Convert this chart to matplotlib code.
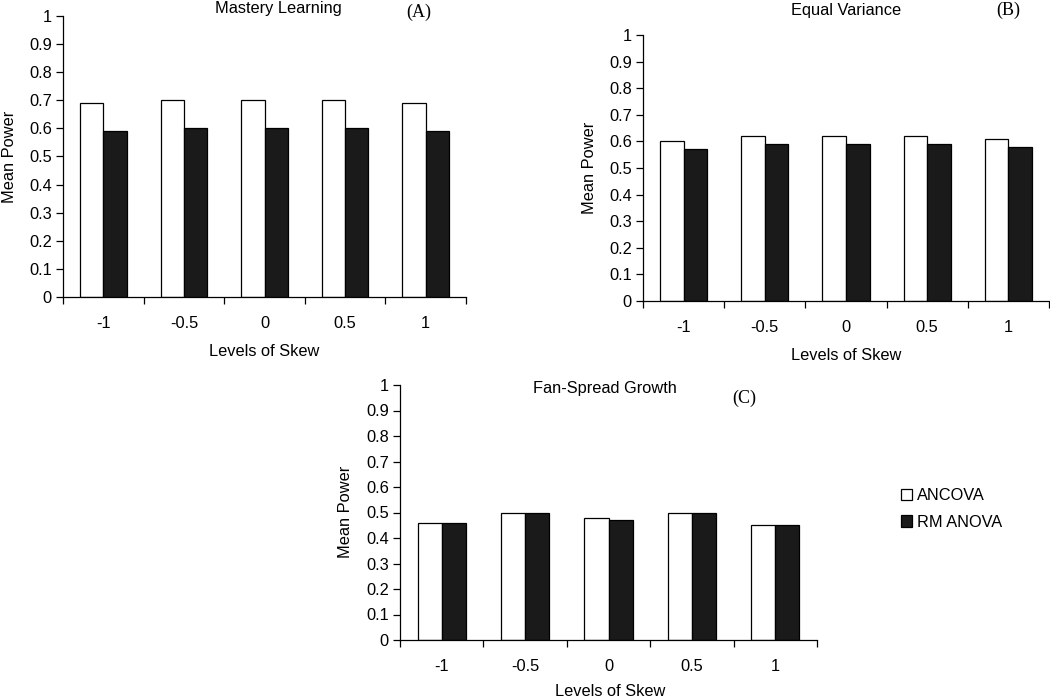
import numpy as np
import matplotlib
matplotlib.use('Agg')
import matplotlib.pyplot as plt
from matplotlib.patches import Patch

plt.rcParams['font.family'] = ['Liberation Sans', 'DejaVu Sans']

skew_levels = ['-1', '-0.5', '0', '0.5', '1']

ml_ancova = [0.69, 0.70, 0.70, 0.70, 0.69]
ml_rm = [0.59, 0.60, 0.60, 0.60, 0.59]

ev_ancova = [0.60, 0.62, 0.62, 0.62, 0.61]
ev_rm = [0.57, 0.59, 0.59, 0.59, 0.58]

fs_ancova = [0.46, 0.50, 0.48, 0.50, 0.45]
fs_rm = [0.46, 0.50, 0.47, 0.50, 0.45]

W, H = 1050, 699
fig = plt.figure(figsize=(W / 100, H / 100), dpi=100)
FS = 11.8


def px(x, y):
    return x / W, 1 - y / H


def panel(rect, ancova, rm):
    ax = fig.add_axes(rect)
    x = np.arange(len(skew_levels)) + 0.5
    w = 0.29
    ax.bar(x - w / 2, ancova, w, color='white', edgecolor='black', linewidth=0.9)
    ax.bar(x + w / 2, rm, w, color='#1a1a1a', edgecolor='black', linewidth=0.9)
    ax.set_xlim(0, len(skew_levels))
    ax.set_ylim(0, 1)
    ax.set_yticks(np.arange(0, 1.01, 0.1))
    ax.set_yticklabels(['0', '0.1', '0.2', '0.3', '0.4', '0.5', '0.6', '0.7', '0.8', '0.9', '1'])
    ax.set_xticks(x)
    ax.set_xticklabels(skew_levels)
    ax.set_xticks(np.arange(0, len(skew_levels) + 1), minor=True)
    ax.tick_params(axis='x', which='major', length=0, pad=14, labelsize=FS)
    ax.tick_params(axis='x', which='minor', length=5, width=0.9)
    ax.tick_params(axis='y', length=5, width=0.9, labelsize=FS, pad=3)
    ax.spines['top'].set_visible(False)
    ax.spines['right'].set_visible(False)
    ax.spines['left'].set_linewidth(0.9)
    ax.spines['bottom'].set_linewidth(0.9)
    return ax


def rect(l, r, t, b):
    return [l / W, 1 - b / H, (r - l) / W, (b - t) / H]


panel(rect(63, 466, 16, 297), ml_ancova, ml_rm)
panel(rect(643, 1049, 35, 301), ev_ancova, ev_rm)
panel(rect(400, 817, 385, 640), fs_ancova, fs_rm)

# titles and panel letters
fig.text(*px(278, 8), 'Mastery Learning', ha='center', va='center', fontsize=FS)
fig.text(*px(419, 12), '(A)', ha='center', va='center', fontsize=13, family='Liberation Serif')
fig.text(*px(846, 11), 'Equal Variance', ha='center', va='center', fontsize=FS)
fig.text(*px(1008, 10), '(B)', ha='center', va='center', fontsize=13, family='Liberation Serif')
fig.text(*px(605, 389), 'Fan-Spread Growth', ha='center', va='center', fontsize=FS)
fig.text(*px(744, 398), '(C)', ha='center', va='center', fontsize=13, family='Liberation Serif')

# axis labels
fig.text(*px(264, 352), 'Levels of Skew', ha='center', va='center', fontsize=FS)
fig.text(*px(846, 355), 'Levels of Skew', ha='center', va='center', fontsize=FS)
fig.text(*px(610, 691), 'Levels of Skew', ha='center', va='center', fontsize=FS)
fig.text(*px(10, 157), 'Mean Power', ha='center', va='center', rotation=90, fontsize=FS)
fig.text(*px(589, 168), 'Mean Power', ha='center', va='center', rotation=90, fontsize=FS)
fig.text(*px(346, 512), 'Mean Power', ha='center', va='center', rotation=90, fontsize=FS)

handles = [Patch(facecolor='white', edgecolor='black', linewidth=0.9, label='ANCOVA'),
           Patch(facecolor='#1a1a1a', edgecolor='black', linewidth=0.9, label='RM ANOVA')]
fig.legend(handles=handles, loc='center left', bbox_to_anchor=px(886, 509), frameon=False,
           fontsize=FS, handlelength=0.7, handleheight=0.7, handletextpad=0.3, labelspacing=0.7)

fig.savefig('out.png', dpi=100)
